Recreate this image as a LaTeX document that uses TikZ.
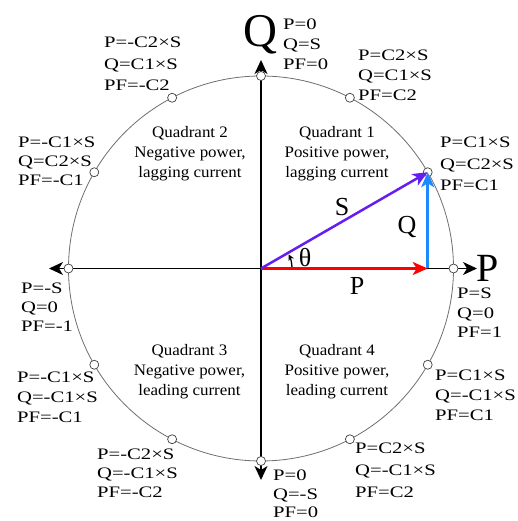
\documentclass[tikz,border=0pt]{standalone}
\usepackage{fontspec}
\setmainfont{Liberation Serif}
\newfontfamily\labfont{Liberation Serif}[FakeStretch=1.29]
\newfontfamily\quadfont{Liberation Serif}[FakeStretch=1.06]
\usetikzlibrary{arrows.meta,calc}
\definecolor{qblue}{RGB}{30,136,255}
\definecolor{svio}{RGB}{100,30,240}
\definecolor{cgray}{RGB}{110,110,110}
\newcommand\lab[4][20pt]{\vtop{\baselineskip=#1\relax\hbox{#2}\hbox{#3}\hbox{#4}}}
\newcommand\qtext[3]{\vtop{\baselineskip=20pt\relax\halign{\hfil##\hfil\cr#1\cr#2\cr#3\cr}}}
\tikzset{
  axisarrow/.style={line width=1.5pt,-{Stealth[length=14pt,width=13pt,inset=4pt]}},
  marker/.style={circle,draw=black!75,fill=white,line width=0.7pt,minimum size=9pt,inner sep=0pt},
  lab/.style={anchor=base west,inner sep=0pt,font=\labfont\fontsize{16}{20}\selectfont},
  quad/.style={anchor=base,inner sep=0pt,font=\quadfont\fontsize{16}{20}\selectfont},
  vec/.style={line width=2.5pt,-{Stealth[length=15pt,width=13pt,inset=4pt]}},
  veclab/.style={inner sep=0pt,font=\fontsize{26}{30}\selectfont},
  big/.style={inner sep=0pt,font=\fontsize{47}{50}\selectfont},
}
\begin{document}
\begin{tikzpicture}[x=1pt,y=1pt]
\useasboundingbox (0,0) rectangle (517,521);
\coordinate (O) at (261,252.5);
% circle
\draw[cgray,line width=0.8pt] (O) circle[radius=192.5];
% axes
\coordinate (tR) at (477,252.5);
\coordinate (tL) at (49,252.5);
\coordinate (tU) at (261,461);
\coordinate (tD) at (261,41);
\draw[axisarrow] (O) -- (tR);
\draw[axisarrow] (O) -- (tL);
\draw[axisarrow] (O) -- (tU);
\draw[axisarrow] (O) -- (tD);
% markers
\foreach \a/\n in {0/m0,30/m30,62.5/m62,90/m90,117.5/m117,150/m150,180/m180,210/m210,242.5/m242,270/m270,297.5/m297,330/m330}{
  \node[marker] (\n) at ($(O)+(\a:192.5)$) {};
}
% vectors
\coordinate (A) at (427.7,252.5);
\coordinate (B) at (427.7,348.75);
\draw[vec,red] (O) -- (A);
\draw[vec,qblue] (A) -- (B);
\draw[vec,svio] (O) -- (B);
\draw[line width=1.3pt,-{Stealth[length=6pt,width=6pt]}] ($(O)+(3:31)$) arc[start angle=3,end angle=27,radius=31];
% vector labels
\node[veclab] (lS) at (342,314) {S};
\node[veclab] (lQ) at (407,294) {Q};
\node[veclab] (lP) at (357,235) {P};
\node[veclab] (lth) at (305,263) {θ};
% axis names
\node[big,anchor=base] (bigQ) at (260.5,474) {Q};
\node[big,anchor=base west,font=\fontsize{40}{44}\selectfont] (bigP) at (476,239.5) {P};
% quadrant texts
\node[quad] (q1) at (337,383) {\qtext{Quadrant 1}{Positive power,}{lagging current}};
\node[quad] (q2) at (190,383) {\qtext{Quadrant 2}{Negative power,}{lagging current}};
\node[quad] (q3) at (189.5,165) {\qtext{Quadrant 3}{Negative power,}{leading current}};
\node[quad] (q4) at (337,165) {\qtext{Quadrant 4}{Positive power,}{leading current}};
% point labels
\node[lab] (L90) at (283,491) {\lab[20pt]{P=0}{Q=S}{PF=0}};
\node[lab] (L62) at (358,460) {\lab[20pt]{P=C2×S}{Q=C1×S}{PF=C2}};
\node[lab] (L30) at (440,373) {\lab[21.5pt]{P=C1×S}{Q=C2×S}{PF=C1}};
\node[lab] (L0) at (457,222) {\lab[19.5pt]{P=S}{Q=0}{PF=1}};
\node[lab] (L330) at (435,140) {\lab[20pt]{P=C1×S}{Q=-C1×S}{PF=C1}};
\node[lab] (L297) at (355,67) {\lab[22pt]{P=C2×S}{Q=-C1×S}{PF=C2}};
\node[lab] (L270) at (273,40) {\lab[18.5pt]{P=0}{Q=-S}{PF=0}};
\node[lab] (L242) at (97,61) {\lab[19pt]{P=-C2×S}{Q=-C1×S}{PF=-C2}};
\node[lab] (L210) at (17,138) {\lab[20pt]{P=-C1×S}{Q=-C1×S}{PF=-C1}};
\node[lab] (L180) at (21,227) {\lab[19pt]{P=-S}{Q=0}{PF=-1}};
\node[lab] (L150) at (18,373) {\lab[19pt]{P=-C1×S}{Q=C2×S}{PF=-C1}};
\node[lab] (L117) at (104,473) {\lab[21.5pt]{P=-C2×S}{Q=C1×S}{PF=-C2}};
\end{tikzpicture}
\end{document}
